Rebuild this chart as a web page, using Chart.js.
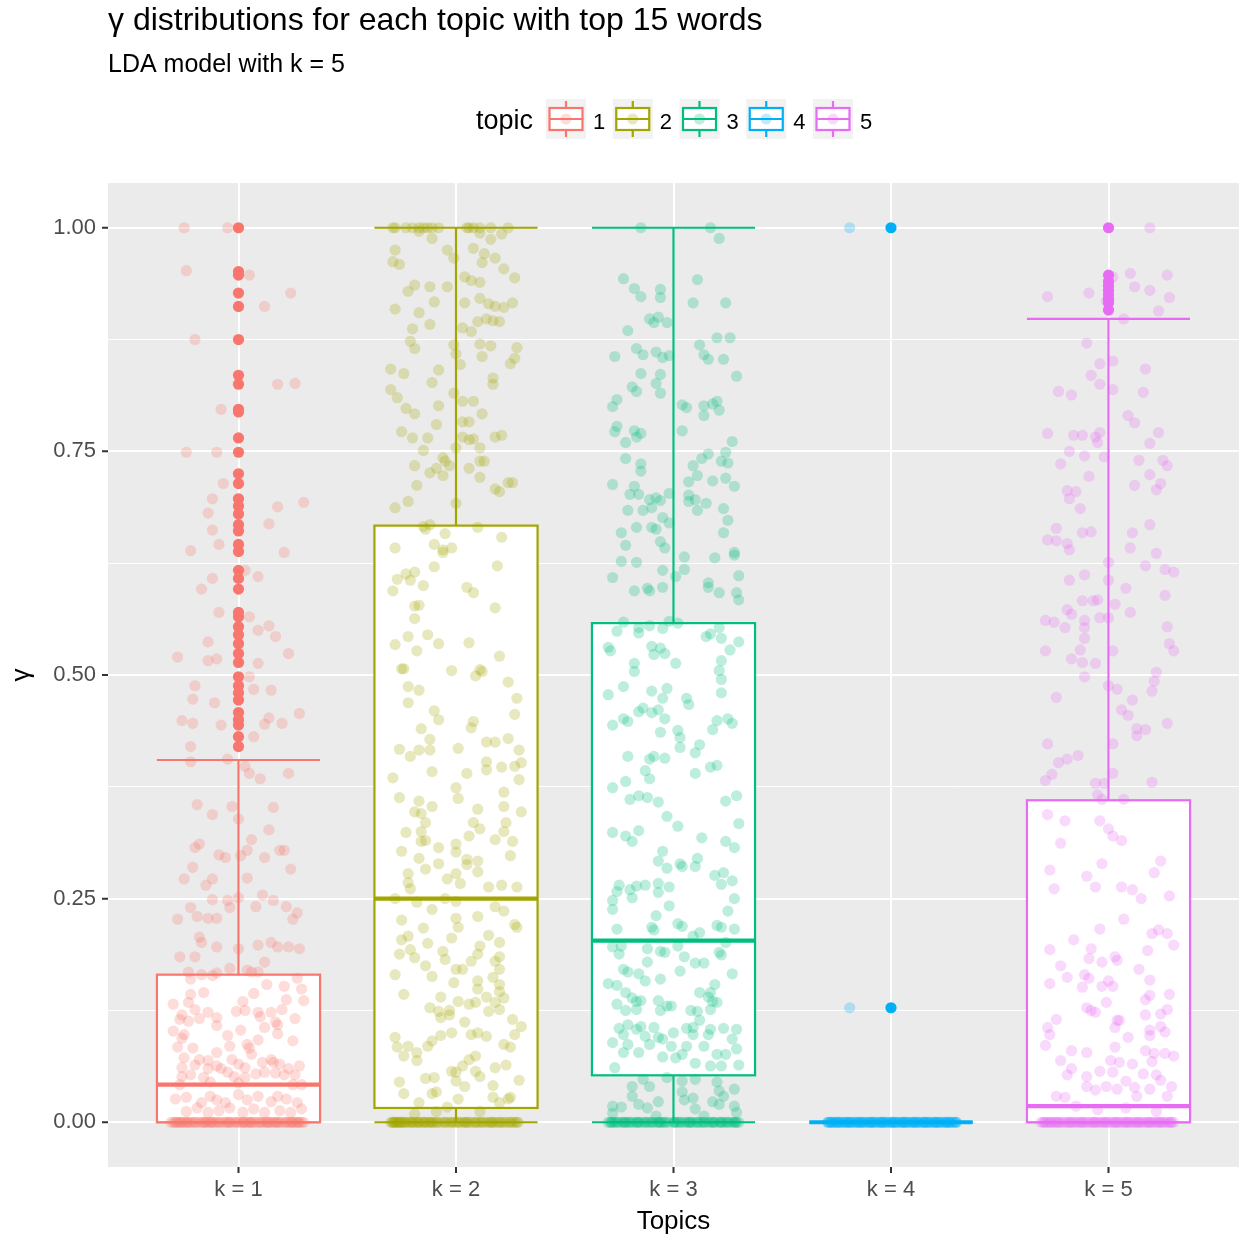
<!DOCTYPE html>
<html>
<head>
<meta charset="utf-8">
<script src="https://cdn.jsdelivr.net/npm/chart.js@4.4.1/dist/chart.umd.min.js"></script>
<style>
html, body { margin: 0; padding: 0; background: #ffffff; overflow: hidden; }
#wrap { width: 1239px; height: 1236px; }
canvas { display: block; }
</style>
</head>
<body>
<div id="wrap"><canvas id="chart" width="1239" height="1236"></canvas></div>
<script>
const FONT = '"Liberation Sans", Arial, Helvetica, sans-serif';

const titleText = 'γ distributions for each topic with top 15 words';
const subtitleText = 'LDA model with k = 5';
const xTitle = 'Topics';
const yTitle = 'γ';
const legendTitle = 'topic';

const topics = ['1', '2', '3', '4', '5'];
const tickLabels = ['k = 1', 'k = 2', 'k = 3', 'k = 4', 'k = 5'];
const topicColors = ['#F8766D', '#A3A500', '#00BF7D', '#00B0F6', '#E76BF3'];
const yMajorTicks = [0, 0.25, 0.5, 0.75, 1];
const yMinorTicks = [0.125, 0.375, 0.625, 0.875];

// five-number summaries per topic
const lowerWhisker = [0, 0, 0, 0, 0];
const lowerHinge = [0, 0.016, 0.0525, 0, 0];
const medians = [0.042, 0.25, 0.203, 0, 0.018];
const upperHinge = [0.165, 0.667, 0.558, 0, 0.36];
const upperWhisker = [0.405, 1.0, 1.0, 0, 0.898];

// boxplot outliers per topic
const outliers1 = [1.0, 0.951, 0.947, 0.927, 0.912, 0.875, 0.835, 0.825, 0.797, 0.794, 0.765, 0.749, 0.725, 0.714, 0.697, 0.689, 0.68, 0.668, 0.661, 0.646, 0.638, 0.617, 0.608, 0.596, 0.57, 0.565, 0.554, 0.545, 0.535, 0.524, 0.514, 0.498, 0.488, 0.48, 0.472, 0.458, 0.45, 0.444, 0.431, 0.42];
const outliers2 = [];
const outliers3 = [];
const outliers4 = [1.0, 0.128];
const outliers5 = [1.0, 0.947, 0.94, 0.935, 0.93, 0.925, 0.92, 0.916, 0.908];

// jittered documents: [horizontal offset, gamma]
const jitter1 = [[-0.25,1.0],[-0.05,1.0],[-0.24,0.952],[0.05,0.947],[0.24,0.927],[0.12,0.912],[-0.2,0.875],[0.18,0.825],[0.26,0.826],[-0.08,0.797],
[-0.24,0.749],[-0.10,0.749],[-0.07,0.714],[-0.12,0.697],[-0.14,0.681],[-0.12,0.662],[-0.09,0.646],[-0.22,0.639],[0.18,0.688],[0.30,0.693],[0.14,0.669],[0.21,0.637],[0.03,0.617],[0.09,0.61],[-0.12,0.608],[-0.17,0.596],[-0.09,0.57],[0.05,0.565],[0.09,0.55],[0.14,0.555],[0.17,0.543],[-0.14,0.537],[-0.28,0.52],[-0.14,0.516],[-0.10,0.518],[0.23,0.524],[0.09,0.513],[0.05,0.498],[-0.2,0.488],[-0.21,0.473],[-0.11,0.469],[0.07,0.484],[0.15,0.483],[-0.26,0.449],[-0.21,0.446],[-0.08,0.444],[0.12,0.445],[0.14,0.452],[0.2,0.446],[0.28,0.457],[0.07,0.431],[-0.22,0.42],
[-0.22,0.403],[-0.05,0.406],[0.03,0.398],[0.05,0.39],[0.1,0.384],[0.23,0.39],[-0.19,0.355],[-0.12,0.344],[-0.03,0.353],[0,0.339],[0.16,0.352],[0.14,0.327],[0.06,0.316],[-0.18,0.311],[-0.2,0.307],[-0.09,0.299],[-0.06,0.296],[0.01,0.298],[0.04,0.304],[0.12,0.296],[0.19,0.304],[0.21,0.304],[-0.21,0.285],[-0.25,0.272],[-0.12,0.272],[-0.15,0.265],[0.04,0.273],[0.24,0.283],[-0.12,0.249],[-0.05,0.248],[-0.04,0.24],[0,0.251],[0.11,0.254],[0.16,0.248],[0.08,0.241],[0.22,0.241],[-0.22,0.24],[-0.28,0.227],[-0.19,0.23],[-0.14,0.228],[-0.1,0.228],[0.27,0.234],[0.25,0.227],[-0.18,0.207],[-0.17,0.201],[-0.1,0.196],[0,0.194],[0.09,0.198],[0.15,0.201],[0.18,0.196],[0.23,0.196],[0.28,0.194],[-0.27,0.185],[-0.2,0.185],[0.12,0.179],[-0.04,0.172],
[-0.23,0.168],[-0.17,0.165],[-0.12,0.164],[-0.1,0.167],[0.04,0.17],[0.06,0.168],[0.09,0.168],[0.27,0.161],[-0.22,0.16],[-0.16,0.145],[-0.22,0.143],[-0.3,0.132],[-0.23,0.134],[-0.2,0.126],[-0.26,0.12],[-0.14,0.123],[-0.1,0.117],[-0.18,0.116],[-0.27,0.115],[-0.23,0.113],[-0.1,0.108],[-0.01,0.124],[0.02,0.135],[0.07,0.144],[0.13,0.154],[0.21,0.152],[0.22,0.137],[0.29,0.149],[0.3,0.136],[0.03,0.125],[0.09,0.123],[0.1,0.118],[0.15,0.123],[0.2,0.126],[0.26,0.116],[0.17,0.112],[0.18,0.109],[0.12,0.106],[0.18,0.099],[-0.3,0.102],[-0.25,0.098],[-0.26,0.094],[-0.05,0.097],[0.01,0.103],[0.09,0.092],[0.25,0.091],[-0.21,0.083],[-0.28,0.084],[-0.04,0.085],[0.04,0.087],[0.05,0.083],[0.06,0.076],[-0.1,0.078],[-0.25,0.072],[-0.18,0.07],[-0.14,0.069],[-0.26,0.061],[-0.2,0.064],[-0.14,0.06],[-0.1,0.063],[-0.08,0.06],[-0.03,0.07],[0,0.065],[0.03,0.061],[0.11,0.067],[0.15,0.07],[0.16,0.067],[0.19,0.065],[0.23,0.06],[0.28,0.063],[-0.26,0.051],[-0.22,0.053],[-0.16,0.05],[-0.05,0.056],[-0.02,0.051],[0.03,0.05],[0.08,0.054],[0.12,0.056],[0.17,0.055],[0.21,0.053],[0.26,0.053],[-0.27,0.042],[-0.13,0.045],[0,0.044],[0.25,0.042],[0.29,0.042],[-0.29,0.026],[-0.24,0.028],[-0.17,0.022],[-0.13,0.029],[-0.1,0.025],[-0.06,0.022],[0,0.031],[0.04,0.025],[0.09,0.029],[0.15,0.023],[0.18,0.029],[0.22,0.026],[0.27,0.022],[-0.24,0.012],[-0.19,0.016],[-0.14,0.011],[-0.09,0.013],[-0.04,0.016],[0.02,0.011],[0.07,0.015],[0.12,0.011],[0.19,0.013],[0.24,0.011],[0.29,0.015]];

const jitter2 = [[-0.29,1],[-0.28,1],[-0.23,1],[-0.2,1],[-0.17,1],[-0.15,1],[-0.13,1],[-0.11,1],[-0.08,1],[0.05,1],[0.06,1],[0.08,1],[0.11,1],[0.16,1],[0.24,1],
[-0.17,0.996],[-0.11,0.988],[0.11,0.994],[0.16,0.987],[0.21,0.993],[-0.28,0.975],[-0.04,0.975],[-0.01,0.966],[0.08,0.977],[0.13,0.971],[0.18,0.966],[-0.29,0.962],[-0.26,0.959],[0.12,0.961],[0.22,0.954],[0.27,0.944],[0.04,0.945],[0.07,0.941],[0.11,0.939],[-0.19,0.936],[-0.22,0.929],[-0.12,0.934],[-0.04,0.934],[-0.1,0.917],[0.04,0.916],[0.11,0.921],[0.15,0.915],[0.18,0.912],[0.22,0.911],[0.26,0.916],[-0.28,0.909],[-0.17,0.905],[-0.12,0.892],[-0.2,0.887],[0.03,0.888],[0.07,0.884],[0.1,0.895],[0.14,0.898],[0.17,0.896],[0.2,0.895],
[-0.21,0.873],[-0.19,0.865],[-0.01,0.869],[0.0,0.859],[0.11,0.87],[0.16,0.868],[0.12,0.856],[0.28,0.866],[0.27,0.854],[0.25,0.848],[0.02,0.847],[-0.3,0.842],[-0.24,0.837],[-0.08,0.841],[-0.11,0.827],[0.17,0.832],[0.17,0.825],[-0.3,0.819],[-0.27,0.81],[-0.01,0.815],[-0.23,0.798],[-0.19,0.792],[-0.08,0.801],[0.03,0.806],[0.08,0.806],[0.12,0.792],[0.03,0.783],[0.06,0.783],[-0.09,0.78],[-0.25,0.772],[-0.2,0.765],[-0.13,0.765],[0.03,0.766],[0.06,0.763],[0.08,0.764],[0.18,0.766],[0.21,0.768],[-0.15,0.751],[0.0,0.754],[0.11,0.754],[-0.06,0.743],[-0.05,0.739],[-0.03,0.734],[-0.09,0.731],[-0.06,0.723],[-0.12,0.726],[-0.19,0.734],[0.06,0.731],[0.11,0.739],[0.13,0.739],[0.11,0.721],[-0.18,0.712],[0.18,0.708],[0.2,0.705],[0.24,0.715],[0.26,0.715],[-0.28,0.687],[-0.22,0.694],[0.0,0.692],
[-0.15,0.666],[-0.12,0.668],[-0.14,0.663],[-0.05,0.658],[0.1,0.665],[0.21,0.654],[-0.28,0.642],[-0.1,0.646],[-0.06,0.64],[-0.06,0.637],[-0.02,0.642],[0.19,0.622],[-0.1,0.621],[-0.23,0.613],[-0.19,0.615],[-0.27,0.607],[-0.21,0.606],[-0.15,0.6],[-0.29,0.594],[0.05,0.598],[0.08,0.592],[-0.19,0.577],[-0.17,0.578],[0.18,0.575],[-0.19,0.563],[-0.28,0.534],[-0.22,0.543],[-0.13,0.545],[-0.08,0.535],[0.06,0.536],[-0.18,0.527],[0.2,0.521],[-0.25,0.507],[-0.24,0.507],[-0.02,0.505],[0.11,0.506],
[0.09,0.499],[0.12,0.504],[0.24,0.492],[-0.22,0.487],[-0.17,0.483],[-0.22,0.469],[0.28,0.474],[0.27,0.456],[-0.1,0.46],[-0.08,0.45],[0.08,0.448],[0.07,0.441],[-0.16,0.44],[-0.12,0.428],[0.14,0.425],[0.18,0.425],[0.24,0.429],[0.29,0.416],[-0.26,0.417],[-0.21,0.409],[-0.17,0.416],[-0.12,0.416],[0.01,0.418],[0.14,0.394],[0.14,0.403],[0.21,0.397],[0.27,0.398],[0.3,0.402],[-0.11,0.392],[0.05,0.39],[-0.29,0.385],[0.29,0.383],[0.0,0.374],[0.22,0.369],[-0.26,0.363],[0.01,0.362],[-0.17,0.359],[-0.11,0.353],[-0.19,0.347],[-0.16,0.345],[0.22,0.353],[0.3,0.347],[0.1,0.35],[-0.14,0.335],[0.08,0.335],[0.23,0.335],[0.11,0.328],[-0.23,0.324],[-0.16,0.325],[0.22,0.325],[0.06,0.32],[0.18,0.316],[0.26,0.314],[-0.16,0.314],[-0.14,0.315],[-0.25,0.303],[-0.08,0.307],[0.0,0.311],[0.0,0.302],[0.25,0.298],[-0.17,0.295],[-0.08,0.289],[0.05,0.294],[0.1,0.292],[0.05,0.288],[0.1,0.28],[-0.14,0.283],[-0.22,0.278],[0.0,0.278],[-0.22,0.268],[-0.21,0.261],[-0.04,0.272],[0.02,0.267],[0.15,0.263],[0.21,0.265],[0.28,0.263],[-0.28,0.25],[-0.18,0.246],[-0.05,0.25],[0.0,0.247],
[-0.11,0.238],[0.0,0.228],[0.01,0.218],[0.1,0.23],[0.18,0.241],[0.22,0.236],[0.27,0.221],[0.28,0.218],[-0.25,0.226],[-0.15,0.217],[-0.25,0.204],[-0.22,0.208],[-0.02,0.206],[0.15,0.209],[0.2,0.201],[-0.13,0.2],[-0.21,0.193],[-0.26,0.188],[-0.19,0.184],[-0.06,0.191],[-0.05,0.182],[0.11,0.197],[0.1,0.188],[0.07,0.18],[0.18,0.18],[0.2,0.185],[0.2,0.171],[-0.28,0.165],[-0.14,0.175],[-0.11,0.163],[0.0,0.171],[0.03,0.171],[0.17,0.162],[0.1,0.158],[-0.01,0.156],[-0.24,0.143],[0.2,0.154],[0.1,0.149],[0.2,0.146],[-0.07,0.14],[0.01,0.135],[0.06,0.132],[0.09,0.134],[0.14,0.14],[0.22,0.139],[0.18,0.134],[-0.12,0.128],[-0.08,0.124],[-0.03,0.125],[-0.07,0.117],[-0.03,0.12],[0.04,0.112],[0.15,0.124],[0.2,0.126],[0.26,0.115],[0.3,0.107],[0.27,0.098],[-0.28,0.095],[-0.07,0.097],[-0.02,0.1],[0.07,0.098],[0.1,0.1],[0.14,0.096],[-0.27,0.084],[-0.24,0.074],[-0.22,0.085],[-0.18,0.078],[-0.18,0.069],[-0.13,0.085],[-0.11,0.091],[0.22,0.087],[0.25,0.084],[0.23,0.064],[0.18,0.061],[0.09,0.074],[0.06,0.07],[0.03,0.063],[0.0,0.056],[-0.02,0.057],[0.09,0.057],[0.11,0.051],[-0.26,0.045],[-0.14,0.049],[-0.1,0.05],[0.29,0.047],[-0.24,0.032],[-0.11,0.032],[-0.09,0.034],[0.0,0.046],[0.04,0.04],[0.17,0.041],[0.17,0.028],[0.24,0.026],[0.25,0.028],[0.01,0.026],[-0.17,0.022],[-0.04,0.017],[-0.09,0.012],[-0.19,0.009],[0.11,0.012],[0.2,0.022]];

const jitter3 = [[-0.15,1.0],[0.17,1.0],[0.21,0.988],[-0.23,0.943],[-0.18,0.932],[-0.15,0.923],[-0.06,0.931],[-0.06,0.922],[0.11,0.942],[0.09,0.916],[0.24,0.916],[-0.11,0.898],[-0.09,0.894],[-0.07,0.9],[-0.03,0.894],[-0.21,0.885],[-0.17,0.865],[-0.14,0.858],[-0.27,0.856],[-0.08,0.861],[-0.05,0.855],[-0.02,0.857],[0.12,0.869],[0.14,0.858],[0.16,0.853],[0.2,0.877],[0.26,0.877],[0.23,0.853],[0.29,0.834],[-0.15,0.837],[-0.06,0.836],[-0.08,0.826],[-0.19,0.822],[-0.17,0.817],[-0.06,0.815],[-0.26,0.808],[-0.28,0.8],[0.04,0.802],[0.06,0.799],[0.14,0.801],[0.14,0.79],[0.2,0.806],[0.18,0.803],[0.21,0.796],
[-0.26,0.778],[-0.27,0.772],[-0.18,0.773],[-0.17,0.766],[-0.15,0.77],[-0.22,0.76],[0.04,0.773],[0.27,0.761],[-0.22,0.742],[-0.15,0.736],[-0.15,0.728],[0.09,0.734],[0.13,0.742],[0.16,0.747],[0.22,0.739],[0.25,0.737],[0.24,0.749],[-0.28,0.713],[-0.18,0.711],[-0.2,0.702],[-0.16,0.702],[0.07,0.716],[0.11,0.723],[0.18,0.717],[0.24,0.72],[0.28,0.711],[-0.11,0.696],[-0.08,0.698],[-0.06,0.695],[-0.02,0.703],[-0.1,0.687],[-0.14,0.684],[-0.21,0.684],[0.07,0.701],[0.1,0.696],[0.07,0.694],[0.15,0.692],[0.11,0.684],[0.23,0.686],[0.25,0.673],[-0.05,0.676],[-0.02,0.67],[-0.17,0.665],[-0.1,0.665],[-0.08,0.663],[-0.24,0.659],[0.23,0.659],[-0.22,0.645],[-0.06,0.649],[-0.04,0.642],[-0.17,0.626],[-0.24,0.627],[0.05,0.632],[0.19,0.631],[0.28,0.637],[0.28,0.634],[-0.28,0.609],[-0.05,0.617],[0.01,0.61],[0.05,0.618],[0.3,0.611],[-0.18,0.594],[-0.12,0.597],[-0.11,0.594],[-0.05,0.598],[0.16,0.603],[0.16,0.598],[0.21,0.592],[0.29,0.592],[0.3,0.584],
[-0.23,0.559],[-0.16,0.553],[-0.11,0.555],[-0.02,0.56],[0.02,0.558],[-0.26,0.549],[-0.16,0.547],[-0.05,0.552],[0.15,0.543],[0.17,0.546],[0.21,0.553],[0.22,0.541],[0.3,0.537],[0.26,0.528],[-0.3,0.531],[-0.29,0.527],[-0.1,0.532],[-0.06,0.53],[-0.04,0.524],[-0.09,0.523],[-0.18,0.513],[0.01,0.513],[0.22,0.516],[-0.18,0.504],[0.21,0.505],
[0.22,0.495],[-0.3,0.478],[-0.23,0.487],[-0.1,0.482],[-0.03,0.485],[-0.05,0.474],[0.06,0.474],[0.07,0.467],[0.22,0.48],[-0.16,0.459],[-0.14,0.463],[-0.1,0.458],[-0.07,0.461],[-0.28,0.444],[-0.23,0.451],[-0.21,0.448],[-0.04,0.451],[-0.06,0.436],[0.02,0.438],[0.03,0.43],[0.03,0.419],[0.1,0.413],[0.12,0.422],[0.2,0.449],[0.18,0.439],[0.25,0.451],[0.27,0.446],[-0.21,0.409],[-0.11,0.406],[-0.09,0.409],[-0.04,0.407],[-0.13,0.393],[-0.11,0.384],[0.1,0.39],[0.17,0.397],[0.2,0.399],[-0.28,0.374],[-0.22,0.381],[-0.2,0.361],[-0.16,0.365],[-0.12,0.363],[-0.07,0.358],[0.24,0.359],[0.29,0.365],[-0.03,0.342],[0.02,0.331],[0.3,0.334],[-0.28,0.324],[-0.22,0.32],[-0.19,0.314],[-0.16,0.326],[0.13,0.318],[0.24,0.314],[0.28,0.307],[-0.05,0.303],[-0.07,0.292],[-0.03,0.284],[0.03,0.289],[0.04,0.286],[0.1,0.286],[0.11,0.295],[0.19,0.276],[0.22,0.266],[0.23,0.279],[0.27,0.27],[0.28,0.25],[0.25,0.236],[-0.25,0.265],[-0.26,0.258],[-0.17,0.264],[-0.2,0.26],[-0.19,0.251],[-0.13,0.265],[-0.07,0.267],[-0.07,0.257],[-0.02,0.263],[-0.02,0.242],[-0.28,0.248],[-0.28,0.238],[-0.08,0.231],[-0.1,0.218],[-0.09,0.215],[-0.26,0.216],[0.02,0.222],[0.04,0.219],[0.12,0.212],[0.09,0.208],[0.2,0.22],[0.22,0.218],[0.28,0.216],
[-0.28,0.196],[-0.25,0.188],[-0.24,0.197],[-0.12,0.194],[-0.06,0.191],[-0.04,0.19],[0.02,0.197],[0.05,0.185],[0.21,0.19],[0.22,0.187],[0.24,0.201],[-0.12,0.179],[-0.23,0.171],[-0.21,0.168],[-0.16,0.166],[-0.13,0.158],[-0.06,0.16],[0.03,0.169],[0.1,0.178],[0.14,0.178],[0.27,0.166],[-0.3,0.155],[-0.26,0.153],[0.19,0.154],[-0.22,0.145],[0.12,0.145],[0.17,0.145],[0.16,0.14],[0.18,0.135],[0.2,0.134],[-0.19,0.139],[-0.17,0.135],[-0.15,0.136],[-0.26,0.132],[-0.07,0.136],[-0.03,0.13],[-0.01,0.13],[-0.06,0.125],[-0.22,0.125],[-0.17,0.126],[0.08,0.125],[0.11,0.124],[0.17,0.126],[0.12,0.114],[-0.25,0.105],[-0.23,0.098],[-0.21,0.109],[-0.17,0.104],[-0.15,0.107],[-0.09,0.106],[-0.13,0.096],[-0.11,0.087],[-0.28,0.089],[-0.21,0.087],[-0.07,0.095],[-0.05,0.093],[0.0,0.1],[-0.01,0.085],[0.06,0.105],[0.09,0.106],[0.09,0.098],[0.16,0.098],[0.17,0.104],[0.23,0.105],[0.29,0.104],[0.27,0.093],[0.14,0.085],[-0.23,0.078],[-0.16,0.078],[-0.05,0.073],[0.01,0.072],[0.06,0.085],[0.04,0.076],[0.2,0.076],[0.24,0.076],[0.29,0.082],[0.1,0.066],[0.17,0.063],[0.22,0.063],[0.3,0.064],[-0.27,0.061],
[-0.19,0.04],[-0.14,0.048],[-0.11,0.04],[-0.03,0.05],[0.04,0.046],[0.1,0.048],[0.2,0.045],[0.21,0.035],[0.28,0.037],[-0.28,0.018],[-0.24,0.017],[-0.19,0.029],[-0.16,0.02],[-0.12,0.016],[-0.07,0.023],[0.04,0.034],[0.05,0.025],[0.09,0.027],[0.1,0.015],[0.18,0.023],[0.21,0.02],[0.23,0.029],[0.28,0.018],[0.29,0.011],[-0.28,0.01],[-0.08,0.007],[0.14,0.007]];

const jitter4 = [[-0.19, 1.0], [-0.19, 0.128]];

const jitter5 = [[0.19,1.0],[0.02,0.945],[0.1,0.949],[0.27,0.947],[-0.28,0.923],[-0.09,0.927],[-0.01,0.918],[0.12,0.934],[0.19,0.93],[0.28,0.922],[0.23,0.907],[0.07,0.898],
[-0.1,0.871],[-0.04,0.848],[0.02,0.851],[0.17,0.842],[-0.08,0.835],[-0.04,0.825],[-0.23,0.817],[-0.17,0.813],[0.02,0.819],[0.16,0.816],[0.09,0.79],[0.12,0.782],[-0.28,0.77],[-0.16,0.768],[-0.12,0.768],[-0.06,0.766],[-0.04,0.771],[-0.05,0.76],[0.23,0.771],[0.19,0.759],[-0.18,0.75],[-0.11,0.745],[-0.02,0.744],[0.14,0.74],[0.25,0.74],[0.27,0.734],[-0.22,0.736],[-0.09,0.722],[0.19,0.724],[-0.19,0.706],[-0.15,0.705],[-0.18,0.697],[0.12,0.712],[0.24,0.714],[0.22,0.707],[-0.13,0.686],[-0.24,0.664],[-0.28,0.651],[-0.24,0.65],[-0.19,0.647],[-0.18,0.64],[-0.12,0.659],[-0.08,0.66],[0.11,0.659],[0.19,0.668],[0.1,0.642],[0.22,0.636],[0.0,0.626],[0.17,0.622],[0.26,0.618],[0.3,0.615],[-0.18,0.606],[-0.11,0.612],[0.0,0.606],[0.08,0.597],[-0.12,0.583],[-0.07,0.583],[-0.05,0.584],[0.03,0.579],[0.26,0.589],[-0.19,0.573],[-0.17,0.568],[-0.04,0.564],[0.0,0.564],[0.1,0.57],[-0.29,0.561],[-0.25,0.559],[-0.2,0.553],[-0.11,0.561],[-0.11,0.553],[-0.11,0.541],[0.27,0.554],[0.28,0.535],[0.3,0.527],[-0.29,0.527],[-0.17,0.518],[-0.13,0.528],[-0.12,0.514],[-0.06,0.513],[0.02,0.527],[-0.11,0.498],[0.22,0.503],[0.21,0.493],[0.2,0.482],[-0.24,0.475],[0.0,0.488],[0.04,0.484],[0.11,0.472],[0.06,0.461],[0.09,0.455],[0.13,0.44],[0.13,0.432],[0.17,0.439],[0.27,0.446],[-0.28,0.423],[0.02,0.423],[-0.23,0.402],[-0.19,0.406],[-0.14,0.41],[-0.26,0.389],[-0.29,0.382],[0.02,0.39],[0.2,0.38],[-0.06,0.379],[-0.02,0.379],[-0.05,0.366],[-0.03,0.361],[0.07,0.361],
[-0.28,0.344],[-0.2,0.337],[-0.04,0.337],[0.0,0.328],[0.02,0.32],[0.06,0.315],[-0.22,0.312],[0.24,0.292],[-0.03,0.289],[-0.27,0.282],[-0.1,0.275],[0.21,0.279],[-0.25,0.261],[-0.06,0.263],[0.06,0.263],[0.11,0.26],[0.15,0.25],[0.28,0.253],[0.07,0.227],[-0.04,0.216],[0.2,0.211],[0.23,0.215],[0.27,0.211],[0.3,0.198],[-0.27,0.193],[-0.16,0.204],[-0.08,0.194],[-0.09,0.183],[-0.22,0.175],[-0.03,0.179],[0.03,0.185],[0.04,0.181],[0.18,0.192],[-0.19,0.162],[-0.11,0.165],[0.14,0.171],[-0.27,0.155],[-0.12,0.151],[-0.09,0.161],[-0.03,0.152],[0.0,0.158],[0.02,0.152],[0.19,0.159],[0.28,0.143],[0.17,0.137],[0.19,0.142],[-0.1,0.128],[-0.08,0.125],[-0.06,0.123],[-0.01,0.134],[-0.24,0.115],[0.17,0.12],[0.24,0.121],[0.27,0.126],[0.04,0.114],[0.05,0.114],[-0.28,0.106],[-0.27,0.098],[-0.29,0.086],[0.03,0.106],[0.09,0.095],[0.19,0.103],[0.19,0.097],[0.24,0.107],[0.26,0.101],[0.03,0.084],[-0.17,0.08],[-0.1,0.078],[0.17,0.08],[0.21,0.077],[0.26,0.077],[0.3,0.074],[-0.22,0.069],[0.01,0.069],[0.05,0.067],[0.11,0.065],[0.2,0.068],[-0.17,0.06],[-0.04,0.057],[0.02,0.056],[-0.19,0.053],[-0.1,0.051],[0.16,0.054],[0.22,0.053],[0.08,0.046],[0.24,0.047],[0.29,0.04],[-0.1,0.04],[-0.06,0.036],[-0.01,0.04],[0.04,0.037],[0.12,0.039],[0.19,0.037],[-0.24,0.029],[-0.2,0.028],[0.13,0.029],[0.27,0.029],[-0.15,0.018],[-0.05,0.014],[0.08,0.016],[0.22,0.012]];

// offsets of documents with gamma ~ 0
const zeros1 = [-0.31,-0.29,-0.28,-0.26,-0.25,-0.23,-0.21,-0.2,-0.18,-0.17,-0.15,-0.14,-0.12,-0.11,-0.09,-0.07,-0.06,-0.04,-0.03,-0.01,0.0,0.02,0.03,0.05,0.06,0.08,0.1,0.11,0.13,0.14,0.16,0.17,0.19,0.2,0.22,0.24,0.25,0.27,0.28,0.29,-0.27,-0.22,-0.16,-0.1,-0.05,0.01,0.07,0.12,0.18,0.23,-0.3,-0.24,-0.13,0.04,0.15,0.26,
-0.285,-0.265,-0.235,-0.195,-0.155,-0.125,-0.085,-0.045,-0.015,0.025,0.055,0.095,0.135,0.175,0.215,0.245,0.275,0.3];
const zeros2 = [-0.3,-0.29,-0.28,-0.27,-0.26,-0.25,-0.23,-0.22,-0.21,-0.19,-0.18,-0.16,-0.15,-0.13,-0.12,-0.1,-0.09,-0.07,-0.05,-0.04,-0.02,-0.01,0.01,0.03,0.04,0.06,0.07,0.09,0.11,0.12,0.14,0.15,0.17,0.18,0.2,0.22,0.23,0.25,0.26,0.28,-0.29,-0.26,-0.24,-0.2,-0.17,-0.14,-0.11,0.0,0.05,0.1,0.16,0.21,0.27,
-0.285,-0.275,-0.255,-0.235,-0.205,-0.175,-0.145,-0.115,-0.085,-0.055,-0.025,0.015,0.045,0.085,0.125,0.165,0.195,0.245,0.285];
const zeros3 = [-0.3,-0.29,-0.27,-0.26,-0.24,-0.23,-0.21,-0.2,-0.18,-0.16,-0.15,-0.13,-0.12,-0.1,-0.08,-0.07,-0.05,-0.04,-0.02,0.0,0.01,0.03,0.05,0.06,0.08,0.09,0.11,0.13,0.14,0.16,0.17,0.19,0.21,0.22,0.24,0.25,0.27,0.28,0.3,-0.28,-0.22,-0.17,-0.11,-0.06,0.02,0.07,0.12,0.18,0.23,0.29,
-0.285,-0.255,-0.225,-0.195,-0.165,-0.135,-0.095,-0.065,-0.035,0.005,0.035,0.075,0.105,0.145,0.185,0.215,0.255,0.285];
const zeros4 = [-0.29,-0.28,-0.27,-0.26,-0.25,-0.24,-0.23,-0.22,-0.21,-0.2,-0.19,-0.18,-0.17,-0.16,-0.15,-0.14,-0.13,-0.12,-0.11,-0.1,-0.09,-0.08,-0.07,-0.06,-0.05,-0.04,-0.03,-0.02,-0.01,0.0,0.01,0.02,0.03,0.04,0.05,0.06,0.07,0.08,0.09,0.1,0.11,0.12,0.13,0.14,0.15,0.16,0.17,0.18,0.19,0.2,0.21,0.22,0.23,0.24,0.25,0.26,0.27,0.28,0.29,0.3,
-0.285,-0.265,-0.245,-0.215,-0.195,-0.165,-0.145,-0.125,-0.095,-0.075,-0.045,-0.025,0.005,0.025,0.055,0.075,0.105,0.125,0.155,0.175,0.205,0.225,0.255,0.275,0.295,-0.275,-0.235,-0.185,-0.135,-0.085,-0.035,0.015,0.065,0.115,0.165,0.215,0.265,-0.29,-0.25,-0.2,-0.15,-0.1,-0.05,0.0,0.05,0.1,0.15,0.2,0.25,0.3];
const zeros5 = [-0.31,-0.3,-0.28,-0.27,-0.25,-0.24,-0.22,-0.21,-0.19,-0.18,-0.16,-0.15,-0.13,-0.12,-0.1,-0.09,-0.07,-0.06,-0.04,-0.03,-0.01,0.0,0.02,0.03,0.05,0.06,0.08,0.09,0.11,0.12,0.14,0.15,0.17,0.18,0.2,0.21,0.23,0.24,0.26,0.27,0.29,0.3,-0.29,-0.26,-0.23,-0.2,-0.17,-0.14,-0.11,-0.08,-0.05,-0.02,0.01,0.04,0.07,0.1,0.13,0.16,0.19,0.22,0.25,0.28,
-0.295,-0.265,-0.235,-0.175,-0.125,-0.065,-0.015,0.035,0.085,0.135,0.185,0.235,0.285];

const outlierSets = [outliers1, outliers2, outliers3, outliers4, outliers5];
const jitterSets = [jitter1, jitter2, jitter3, jitter4, jitter5];
const zeroSets = [zeros1, zeros2, zeros3, zeros4, zeros5];

const BOX_HALF = 0.375;

function alpha(hex, a) {
  const n = parseInt(hex.slice(1), 16);
  return `rgba(${(n >> 16) & 255},${(n >> 8) & 255},${n & 255},${a})`;
}

const datasets = [];
topics.forEach((t, i) => {
  datasets.push({
    label: 'outliers ' + t,
    data: outlierSets[i].map(g => ({ x: i + 1, y: g })),
    backgroundColor: topicColors[i],
    borderWidth: 0,
    pointRadius: 5.6,
    order: 10
  });
});
topics.forEach((t, i) => {
  const pts = jitterSets[i].map(([dx, g]) => ({ x: i + 1 + dx, y: g }))
    .concat(zeroSets[i].map(dx => ({ x: i + 1 + dx, y: 0 })));
  datasets.push({
    label: 'topic ' + t,
    data: pts,
    backgroundColor: alpha(topicColors[i], 0.26),
    borderWidth: 0,
    pointRadius: 5.6,
    order: 1
  });
});

// zero out the label overhang padding so the plot panel keeps a fixed frame
function fixPadding(s) {
  s.paddingLeft = 0; s.paddingRight = 0; s.paddingTop = 0; s.paddingBottom = 0;
}

const boxPlugin = {
  id: 'boxes',
  beforeDraw(chart) {
    const { ctx, chartArea: a } = chart;
    ctx.save();
    ctx.fillStyle = '#EBEBEB';
    ctx.fillRect(a.left, a.top, a.right - a.left, a.bottom - a.top);
    ctx.restore();
  },
  beforeDatasetsDraw(chart) {
    const { ctx, chartArea: a } = chart;
    const xs = chart.scales.x, ys = chart.scales.y;
    ctx.save();
    ctx.beginPath();
    ctx.rect(a.left, a.top, a.right - a.left, a.bottom - a.top);
    ctx.clip();
    ctx.lineCap = 'butt';
    topics.forEach((t, i) => {
      const c = topicColors[i];
      const xc = xs.getPixelForValue(i + 1);
      const xl = xs.getPixelForValue(i + 1 - BOX_HALF);
      const xr = xs.getPixelForValue(i + 1 + BOX_HALF);
      const yLo = ys.getPixelForValue(lowerWhisker[i]);
      const yHi = ys.getPixelForValue(upperWhisker[i]);
      const yQ1 = ys.getPixelForValue(lowerHinge[i]);
      const yQ3 = ys.getPixelForValue(upperHinge[i]);
      const yMed = ys.getPixelForValue(medians[i]);
      ctx.strokeStyle = c;
      ctx.lineWidth = 2.2;
      // error-bar caps and whiskers
      ctx.beginPath();
      ctx.moveTo(xl, yHi); ctx.lineTo(xr, yHi);
      ctx.moveTo(xl, yLo); ctx.lineTo(xr, yLo);
      ctx.moveTo(xc, yHi); ctx.lineTo(xc, yQ3);
      ctx.moveTo(xc, yQ1); ctx.lineTo(xc, yLo);
      ctx.stroke();
      // box
      ctx.fillStyle = '#FFFFFF';
      ctx.fillRect(xl, yQ3, xr - xl, yQ1 - yQ3);
      ctx.strokeRect(xl, yQ3, xr - xl, yQ1 - yQ3);
      // median
      ctx.lineWidth = 4.2;
      ctx.beginPath();
      ctx.moveTo(xl, yMed); ctx.lineTo(xr, yMed);
      ctx.stroke();
    });
    ctx.restore();
  },
  afterDraw(chart) {
    const { ctx, chartArea: a } = chart;
    const xs = chart.scales.x, ys = chart.scales.y;
    ctx.save();
    // tick marks
    ctx.strokeStyle = '#333333';
    ctx.lineWidth = 2;
    ctx.beginPath();
    yMajorTicks.forEach(v => {
      const y = ys.getPixelForValue(v);
      ctx.moveTo(a.left - 6, y); ctx.lineTo(a.left, y);
    });
    topics.forEach((t, i) => {
      const x = xs.getPixelForValue(i + 1);
      ctx.moveTo(x, a.bottom); ctx.lineTo(x, a.bottom + 6);
    });
    ctx.stroke();

    // title and subtitle
    ctx.fillStyle = '#000000';
    ctx.textAlign = 'left';
    ctx.textBaseline = 'alphabetic';
    ctx.font = `32px ${FONT}`;
    ctx.fillText(titleText, 108, 30);
    ctx.font = `25px ${FONT}`;
    ctx.fillText(subtitleText, 108, 72);

    // legend
    ctx.font = `27px ${FONT}`;
    ctx.fillText(legendTitle, 476, 129);
    const keyX0 = 546, keyStep = 66.75, keyTop = 99, keySize = 40;
    topics.forEach((t, i) => {
      const kx = keyX0 + i * keyStep;
      const cx = kx + keySize / 2;
      ctx.fillStyle = '#F2F2F2';
      ctx.fillRect(kx, keyTop, keySize, keySize);
      ctx.strokeStyle = topicColors[i];
      ctx.lineWidth = 2.2;
      ctx.beginPath();
      ctx.moveTo(cx, keyTop + 2); ctx.lineTo(cx, keyTop + 9);
      ctx.moveTo(cx, keyTop + 31); ctx.lineTo(cx, keyTop + 38);
      ctx.stroke();
      ctx.fillStyle = '#FFFFFF';
      ctx.fillRect(kx + 3.5, keyTop + 9, 33, 22);
      ctx.strokeRect(kx + 3.5, keyTop + 9, 33, 22);
      ctx.fillStyle = alpha(topicColors[i], 0.26);
      ctx.beginPath();
      ctx.arc(cx, keyTop + 20, 5.6, 0, Math.PI * 2);
      ctx.fill();
      ctx.beginPath();
      ctx.moveTo(kx + 3.5, keyTop + 20); ctx.lineTo(kx + 36.5, keyTop + 20);
      ctx.stroke();
      ctx.fillStyle = '#000000';
      ctx.font = `22px ${FONT}`;
      ctx.fillText(t, kx + keySize + 7, 129);
    });
    ctx.restore();
  }
};

new Chart(document.getElementById('chart'), {
  type: 'scatter',
  data: { datasets },
  options: {
    responsive: false,
    animation: false,
    events: [],
    layout: { autoPadding: false, padding: { left: 0, right: 0, top: 183, bottom: 0 } },
    plugins: { legend: { display: false }, tooltip: { enabled: false }, title: { display: false } },
    scales: {
      x: {
        type: 'linear',
        min: 0.4,
        max: 5.6,
        afterBuildTicks: s => { s.ticks = topics.map((t, i) => ({ value: i + 1 })); },
        afterFit: s => { s.height = 69; fixPadding(s); },
        grid: { color: '#FFFFFF', lineWidth: 2, drawTicks: false },
        border: { display: false },
        ticks: {
          autoSkip: false,
          maxRotation: 0,
          padding: 10,
          color: '#4D4D4D',
          font: { family: FONT, size: 22 },
          callback: (v, idx) => tickLabels[idx]
        },
        title: { display: true, text: xTitle, color: '#000000', font: { family: FONT, size: 26, lineHeight: 1.1 }, padding: { top: 0, bottom: 0 } }
      },
      y: {
        type: 'linear',
        min: -0.05,
        max: 1.05,
        afterBuildTicks: s => {
          s.ticks = yMajorTicks.concat(yMinorTicks).sort((p, q) => p - q).map(v => ({ value: v }));
        },
        afterFit: s => { s.width = 108; fixPadding(s); },
        grid: {
          color: '#FFFFFF',
          lineWidth: c => (yMajorTicks.includes(c.tick && c.tick.value) ? 2 : 1),
          drawTicks: false
        },
        border: { display: false },
        ticks: {
          autoSkip: false,
          padding: 12,
          color: '#4D4D4D',
          font: { family: FONT, size: 22 },
          callback: v => (yMajorTicks.includes(v) ? v.toFixed(2) : '')
        },
        title: { display: true, text: yTitle, color: '#000000', font: { family: FONT, size: 26 }, padding: { top: 6, bottom: 0 } }
      }
    }
  },
  plugins: [boxPlugin]
});
</script>
</body>
</html>
